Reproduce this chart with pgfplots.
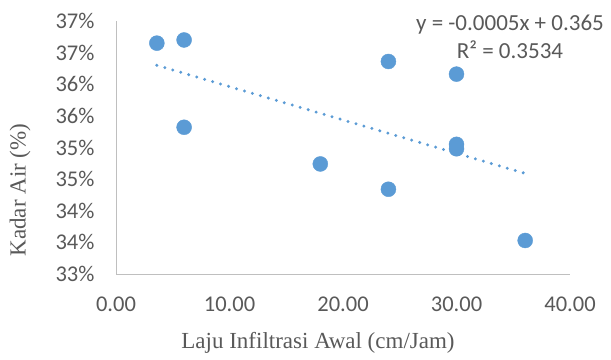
\documentclass[border=0pt]{standalone}
\usepackage{pgfplots}
\pgfplotsset{compat=1.18}
\usepackage{fontspec}
\setmainfont{Carlito}
\newfontfamily\timesfont{Liberation Serif}
\definecolor{txt}{HTML}{595959}
\definecolor{axl}{HTML}{BFBFBF}
\definecolor{pt}{HTML}{5B9BD5}
\begin{document}
\begin{tikzpicture}[x=1bp,y=1bp]
\useasboundingbox (0,0) rectangle (611,359);
\begin{axis}[
  at={(116bp,85bp)}, anchor=south west,
  scale only axis, width=454bp, height=253bp,
  xmin=0, xmax=40, ymin=0.33, ymax=0.37,
  axis x line*=bottom, axis y line*=left,
  axis line style={axl, line width=1bp, -},
  xtick={0,10,20,30,40},
  xticklabels={0.00,10.00,20.00,30.00,40.00},
  ytick={0.33,0.335,0.34,0.345,0.35,0.355,0.36,0.365,0.37},
  yticklabels={33\%,34\%,34\%,35\%,35\%,36\%,36\%,37\%,37\%},
  major tick length=0pt,
  tick label style={font=\fontsize{22.5bp}{25bp}\selectfont, text=txt},
  xticklabel style={yshift=-19bp},
  yticklabel style={xshift=-18bp},
  clip=false,
]
\addplot[only marks, mark=*, mark size=7.5bp, mark options={fill=pt, draw=pt}]
coordinates {
(3.6,0.3665) (6.0,0.3670) (6.0,0.3532) (18.0,0.3474) (24.0,0.3636)
(24.0,0.3434) (30.0,0.3616) (30.0,0.3505) (30.0,0.3498) (36.05,0.3353)
};
\addplot[pt, line width=3.3bp, dash pattern=on 0bp off 8.3bp, line cap=round]
coordinates {(3.6,0.3630) (36.05,0.3459)};
\end{axis}
\node[font=\timesfont\fontsize{23bp}{27bp}\selectfont, text=txt] at (318,16) {Laju Infiltrasi Awal (cm/Jam)};
\node[font=\timesfont\fontsize{23bp}{27bp}\selectfont, text=txt, rotate=90] at (20,169) {Kadar Air (\%)};
\node[font=\fontsize{23bp}{28bp}\selectfont, text=txt, align=center] at (510,322) {y = -0.0005x + 0.365\\R² = 0.3534};
\end{tikzpicture}
\end{document}
